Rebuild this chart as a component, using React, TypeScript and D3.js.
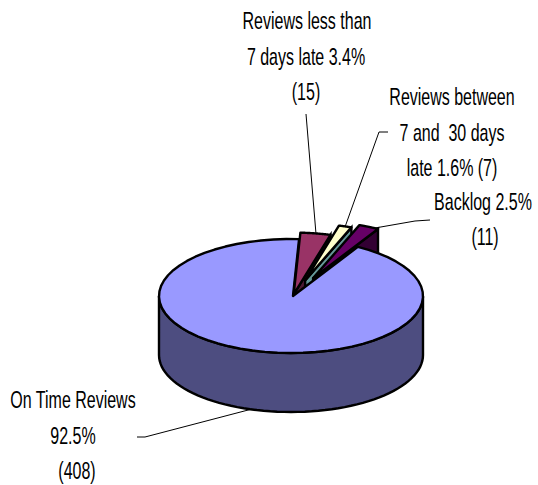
import * as d3 from "d3";
import { useEffect, useRef } from "react";

const categories = ["Reviews less than 7 days late", "Reviews between 7 and 30 days late", "Backlog", "On Time Reviews"];
const counts = [15, 7, 11, 408];

const topColors = ["#993366", "#FFFFCC", "#660066", "#9999FF"];
const sideColors = ["#4D1A33", "#669999", "#330033", "#4D4D80"];

// how far each slice is pulled out, and its radius, in pie units
const pulled = [4, 38, 46, 0];
const radii = [143, 132, 132, 132];

const labels = [
    { lines: ["Reviews less than", "7 days late 3.4%", "(15)"], x: [307, 306, 306], y: [29, 65, 100] },
    { lines: ["Reviews between", "7 and  30 days", "late 1.6% (7)"], x: [452, 452, 452], y: [105, 141, 176] },
    { lines: ["Backlog 2.5%", "(11)"], x: [483, 485], y: [210, 245] },
    { lines: ["On Time Reviews", "92.5%", "(408)"], x: [73, 73, 77], y: [408, 444, 479] },
];

const leaders: [number, number][][] = [
    [[306, 114], [316, 234]],
    [[388, 132], [379, 132], [345, 227]],
    [[430, 220], [415, 221], [375, 228]],
    [[137, 437], [145, 437], [252, 409]],
];

const WIDTH = 538;
const HEIGHT = 485;
const CX = 291;
const CY = 296;
const APEX_DX = 2;
const TILT = 57 / 132;
const DEPTH = 59;
const START_DEG = 3.5;
const FONT_SIZE = 24;
const TEXT_SQUEEZE = 0.667;

export default function App() {
    const svgRef = useRef<SVGSVGElement>(null);

    useEffect(() => {
        const svg = d3.select(svgRef.current);
        svg.selectAll("*").remove();

        const pie = d3.pie<number>().sort(null)
            .startAngle((START_DEG * Math.PI) / 180)
            .endAngle((START_DEG * Math.PI) / 180 + 2 * Math.PI);
        const slices = pie(counts);

        const project = (i: number, a: number, r: number, dz = 0): [number, number] => {
            const mid = (slices[i].startAngle + slices[i].endAngle) / 2;
            const px = pulled[i] * Math.sin(mid) + r * Math.sin(a);
            const py = -pulled[i] * Math.cos(mid) - r * Math.cos(a);
            return [CX + px, CY + py * TILT + dz];
        };

        const apexOf = (i: number): [number, number] => {
            const p = project(i, 0, 0);
            return [p[0] + APEX_DX, p[1]];
        };

        const rim = (i: number, a0: number, a1: number, dz = 0) =>
            d3.range(0, 61).map((k) => project(i, a0 + ((a1 - a0) * k) / 60, radii[i], dz));

        const line = d3.line();
        const strokeW = 2.4;

        // side walls of the small slices go behind everything
        [0, 1, 2].forEach((i) => {
            const s = slices[i];
            const apex = apexOf(i);
            const top = rim(i, s.startAngle, s.endAngle);
            const low: [number, number] = [top[60][0], top[60][1] + DEPTH];
            svg.append("path")
                .attr("d", line([apex, top[60], low, [apex[0], apex[1] + DEPTH]]) + "Z")
                .attr("fill", sideColors[i])
                .attr("stroke", "#000")
                .attr("stroke-width", strokeW);
        });

        // wall of the main slice, front half only
        const front = rim(3, Math.PI / 2, (3 * Math.PI) / 2);
        const frontLow = rim(3, Math.PI / 2, (3 * Math.PI) / 2, DEPTH).reverse();
        svg.append("path")
            .attr("d", line([...front, ...frontLow]) + "Z")
            .attr("fill", sideColors[3])
            .attr("stroke", "#000")
            .attr("stroke-width", strokeW);

        // main slice top
        const main = slices[3];
        svg.append("path")
            .attr("d", line([apexOf(3), ...rim(3, main.startAngle, main.endAngle)]) + "Z")
            .attr("fill", topColors[3])
            .attr("stroke", "#000")
            .attr("stroke-width", strokeW)
            .attr("stroke-linejoin", "round");

        // pulled out slices on top
        [0, 1, 2].forEach((i) => {
            const s = slices[i];
            svg.append("path")
                .attr("d", line([apexOf(i), ...rim(i, s.startAngle, s.endAngle)]) + "Z")
                .attr("fill", topColors[i])
                .attr("stroke", "#000")
                .attr("stroke-width", strokeW)
                .attr("stroke-linejoin", "round");
        });

        leaders.forEach((pts) => {
            svg.append("path")
                .attr("d", line(pts))
                .attr("fill", "none")
                .attr("stroke", "#000")
                .attr("stroke-width", 1);
        });

        labels.forEach((label) => {
            label.lines.forEach((text, j) => {
                svg.append("text")
                    .attr("transform", `translate(${label.x[j]},${label.y[j]}) scale(${TEXT_SQUEEZE},1)`)
                    .attr("text-anchor", "middle")
                    .attr("font-family", "'Liberation Sans', Arial, sans-serif")
                    .attr("font-size", FONT_SIZE)
                    .attr("fill", "#000")
                    .style("white-space", "pre")
                    .text(text);
            });
        });
    }, []);

    return (
        <svg
            ref={svgRef}
            width={WIDTH}
            height={HEIGHT}
            role="img"
            aria-label={categories.join(", ")}
            style={{ position: "absolute", left: 0, top: 0, background: "#fff" }}
        />
    );
}
